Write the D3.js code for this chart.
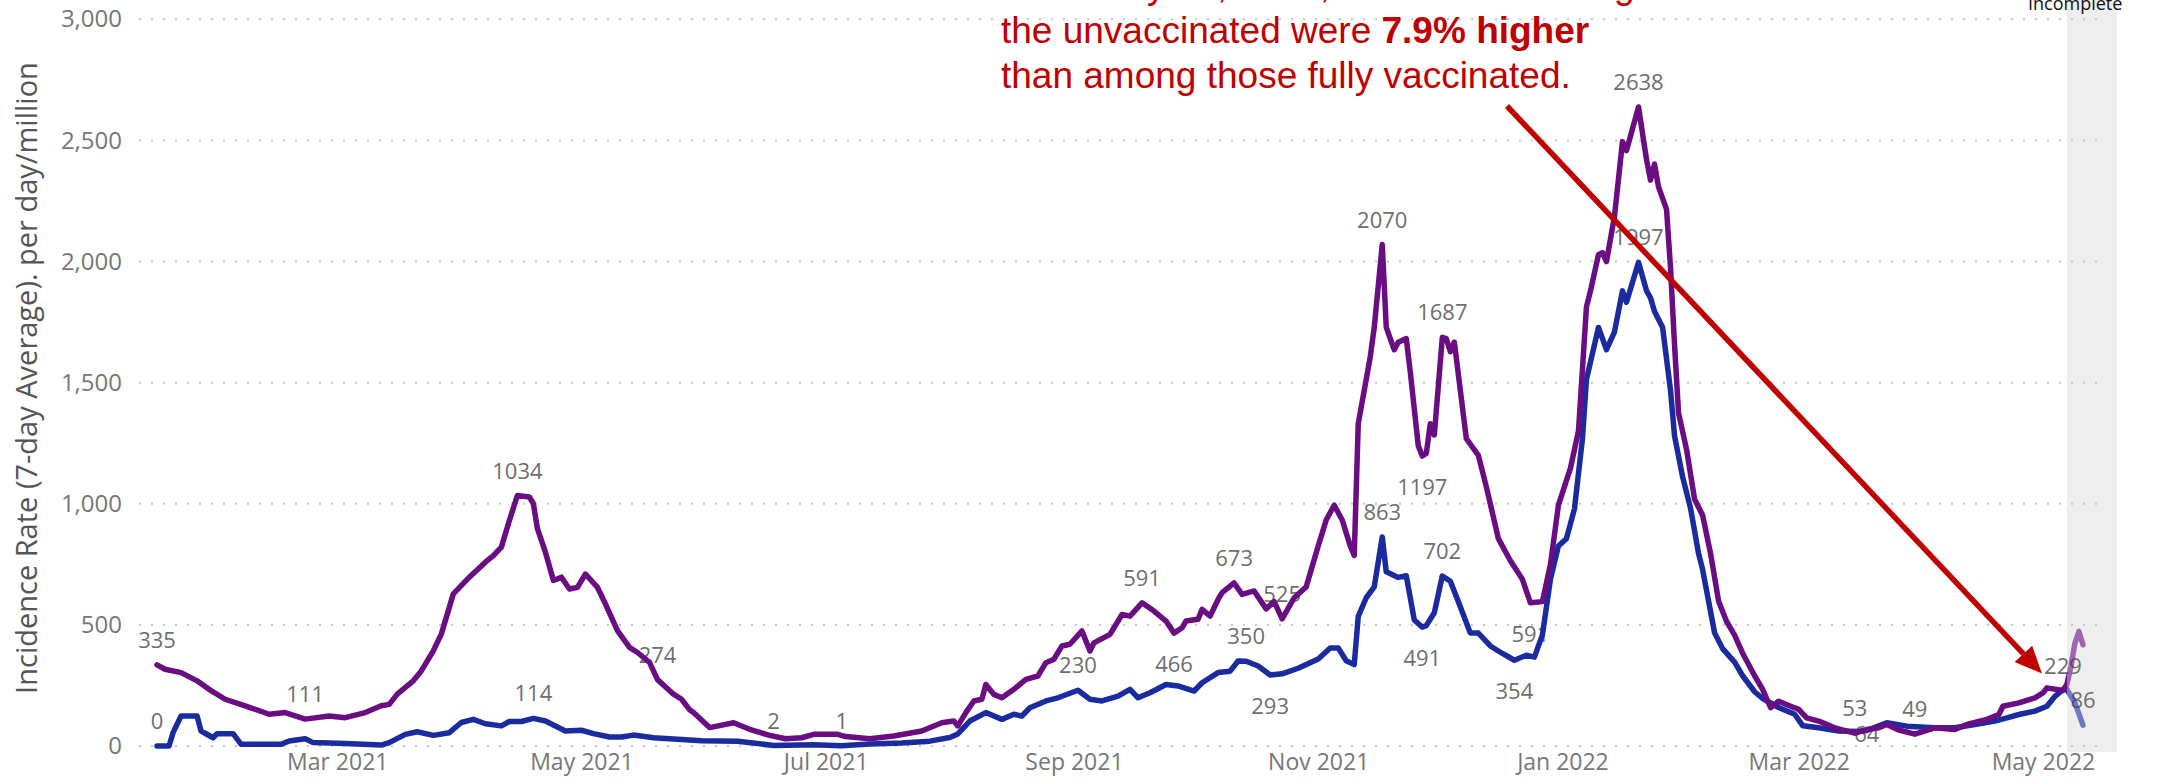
<!DOCTYPE html>
<html>
<head>
<meta charset="utf-8">
<script src="https://cdn.jsdelivr.net/npm/d3@7"></script>
<style>
body { margin: 0; background: #fff; }
svg { display: block; }
</style>
</head>
<body>
<svg width="2175" height="784"></svg>
<script>
// unvaccinated, incidence per day/million (7-day avg)
var unvaxDates = [
  "2021-01-15","2021-01-17","2021-01-21","2021-01-25","2021-01-28","2021-02-01","2021-02-06","2021-02-12",
  "2021-02-16","2021-02-21","2021-02-27","2021-03-03","2021-03-08","2021-03-12","2021-03-14","2021-03-16",
  "2021-03-20","2021-03-22","2021-03-25","2021-03-27","2021-03-30","2021-04-03","2021-04-07","2021-04-09",
  "2021-04-11","2021-04-13","2021-04-15","2021-04-18","2021-04-19","2021-04-20","2021-04-22","2021-04-24",
  "2021-04-26","2021-04-28","2021-04-30","2021-05-02","2021-05-05","2021-05-07","2021-05-10","2021-05-13",
  "2021-05-15","2021-05-18","2021-05-20","2021-05-24","2021-05-26","2021-05-28","2021-05-29","2021-06-02",
  "2021-06-08","2021-06-12","2021-06-17","2021-06-21","2021-06-25","2021-06-28","2021-07-04","2021-07-06",
  "2021-07-12","2021-07-18","2021-07-25","2021-07-30","2021-08-02","2021-08-03","2021-08-05","2021-08-07",
  "2021-08-09","2021-08-10","2021-08-12","2021-08-14","2021-08-17","2021-08-20","2021-08-23","2021-08-25",
  "2021-08-27","2021-08-29","2021-08-31","2021-09-03","2021-09-05","2021-09-06","2021-09-10","2021-09-13",
  "2021-09-15","2021-09-18","2021-09-21","2021-09-24","2021-09-26","2021-09-28","2021-09-29","2021-10-02",
  "2021-10-03","2021-10-05","2021-10-07","2021-10-08","2021-10-11","2021-10-13","2021-10-16","2021-10-19",
  "2021-10-21","2021-10-23","2021-10-26","2021-10-29","2021-11-01","2021-11-03","2021-11-05","2021-11-07",
  "2021-11-09","2021-11-10","2021-11-11","2021-11-13","2021-11-14","2021-11-15","2021-11-17","2021-11-18",
  "2021-11-20","2021-11-21","2021-11-23","2021-11-24","2021-11-26","2021-11-27","2021-11-28","2021-11-29",
  "2021-11-30","2021-12-02","2021-12-03","2021-12-04","2021-12-05","2021-12-08","2021-12-11","2021-12-13",
  "2021-12-16","2021-12-19","2021-12-22","2021-12-24","2021-12-27","2021-12-29","2021-12-31","2022-01-03",
  "2022-01-05","2022-01-07","2022-01-08","2022-01-10","2022-01-11","2022-01-12","2022-01-14","2022-01-16",
  "2022-01-17","2022-01-20","2022-01-22","2022-01-23","2022-01-24","2022-01-25","2022-01-27","2022-01-28",
  "2022-01-29","2022-01-30","2022-02-01","2022-02-03","2022-02-05","2022-02-07","2022-02-09","2022-02-11",
  "2022-02-13","2022-02-15","2022-02-18","2022-02-20","2022-02-22","2022-02-24","2022-02-27","2022-03-01",
  "2022-03-03","2022-03-06","2022-03-10","2022-03-15","2022-03-18","2022-03-21","2022-03-23","2022-03-26",
  "2022-03-30","2022-04-04","2022-04-09","2022-04-12","2022-04-17","2022-04-20","2022-04-21","2022-04-25",
  "2022-04-29","2022-05-01","2022-05-02","2022-05-06","2022-05-07","2022-05-08","2022-05-09","2022-05-10",
  "2022-05-11"
];
var unvaxValues = [
  335,317,303,269,234,193,166,131,
  138,111,124,117,138,166,172,214,
  269,310,393,462,628,697,759,786,
  821,931,1034,1028,1000,897,800,683,
  697,648,655,710,655,586,476,407,
  386,345,274,214,193,150,138,76,
  96,69,44,30,34,48,48,39,
  30,41,62,96,103,83,138,186,
  193,254,213,199,234,275,289,344,
  358,413,420,475,392,426,461,543,
  536,591,557,516,466,488,516,523,
  564,536,605,633,673,626,640,566,
  596,525,612,657,826,933,994,933,
  826,787,1330,1514,1606,1728,2070,1728,
  1636,1667,1682,1544,1239,1197,1208,1330,
  1284,1687,1682,1628,1667,1269,1200,1070,
  856,765,688,591,596,749,994,1147,
  1300,1813,1879,2028,2037,2000,2187,2495,
  2458,2638,2421,2336,2402,2308,2215,1972,
  1654,1374,1224,1019,953,794,598,514,
  458,383,290,234,158,185,164,151,
  116,103,75,53,68,75,89,66,
  49,75,68,89,110,130,164,178,
  199,219,240,229,255,329,425,473,
  418
];

// fully vaccinated
var vaxDates = [
  "2021-01-15","2021-01-18","2021-01-19","2021-01-21","2021-01-25","2021-01-26","2021-01-29","2021-01-30",
  "2021-02-03","2021-02-05","2021-02-15","2021-02-17","2021-02-21","2021-02-23","2021-03-03","2021-03-12",
  "2021-03-14","2021-03-18","2021-03-21","2021-03-25","2021-03-29","2021-04-01","2021-04-04","2021-04-07",
  "2021-04-11","2021-04-13","2021-04-16","2021-04-19","2021-04-22","2021-04-27","2021-05-01","2021-05-04",
  "2021-05-08","2021-05-11","2021-05-14","2021-05-19","2021-05-25","2021-05-31","2021-06-09","2021-06-18",
  "2021-06-28","2021-07-05","2021-07-12","2021-07-20","2021-07-27","2021-08-01","2021-08-03","2021-08-06",
  "2021-08-10","2021-08-14","2021-08-17","2021-08-19","2021-08-21","2021-08-25","2021-08-28","2021-09-02",
  "2021-09-05","2021-09-08","2021-09-12","2021-09-15","2021-09-17","2021-09-20","2021-09-24","2021-09-27",
  "2021-10-01","2021-10-03","2021-10-07","2021-10-10","2021-10-12","2021-10-14","2021-10-17","2021-10-20",
  "2021-10-23","2021-10-27","2021-11-01","2021-11-04","2021-11-06","2021-11-08","2021-11-10","2021-11-11",
  "2021-11-13","2021-11-15","2021-11-17","2021-11-18","2021-11-21","2021-11-23","2021-11-25","2021-11-27",
  "2021-11-28","2021-11-30","2021-12-02","2021-12-04","2021-12-06","2021-12-09","2021-12-11","2021-12-14",
  "2021-12-17","2021-12-20","2021-12-23","2021-12-25","2021-12-27","2021-12-29","2021-12-31","2022-01-02",
  "2022-01-04","2022-01-06","2022-01-07","2022-01-10","2022-01-12","2022-01-14","2022-01-16","2022-01-17",
  "2022-01-20","2022-01-22","2022-01-23","2022-01-24","2022-01-26","2022-01-28","2022-01-29","2022-01-31",
  "2022-02-02","2022-02-04","2022-02-05","2022-02-08","2022-02-10","2022-02-13","2022-02-15","2022-02-18",
  "2022-02-20","2022-02-24","2022-02-28","2022-03-02","2022-03-06","2022-03-11","2022-03-16","2022-03-18",
  "2022-03-23","2022-03-28","2022-04-04","2022-04-09","2022-04-14","2022-04-19","2022-04-22","2022-04-25",
  "2022-04-29","2022-05-02","2022-05-04","2022-05-06","2022-05-07","2022-05-09","2022-05-11"
];
var vaxValues = [
  0,0,55,124,124,62,34,51,
  51,7,7,21,30,14,10,4,
  14,48,59,44,55,97,110,92,
  83,101,101,114,103,62,65,51,
  37,37,45,34,28,22,20,2,
  5,1,8,12,20,35,50,103,
  138,110,131,124,158,186,199,230,
  193,186,206,234,199,220,254,248,
  227,261,303,309,351,350,330,293,
  298,321,359,405,405,352,336,535,
  612,657,863,719,696,703,520,491,
  497,550,702,680,596,466,466,413,
  382,354,375,367,459,688,826,856,
  979,1269,1514,1728,1636,1710,1879,1832,
  1997,1879,1850,1794,1729,1467,1280,1112,
  981,794,729,467,402,346,290,224,
  196,159,131,84,75,62,60,64,
  96,82,75,75,89,103,116,130,
  144,164,205,233,233,178,86
];

var yTicks = [0, 500, 1000, 1500, 2000, 2500, 3000];
var xTickDates = ["2021-03-01","2021-05-01","2021-07-01","2021-09-01","2021-11-01","2022-01-01","2022-03-01","2022-05-01"];

// data labels shown on the lines (u = unvaccinated, v = vaccinated)
var labelDates  = ["2021-01-15","2021-01-15","2021-02-21","2021-04-15","2021-04-19","2021-05-20","2021-06-18","2021-07-05",
                   "2021-09-02","2021-09-18","2021-09-26","2021-10-11","2021-10-14","2021-10-20","2021-10-23","2021-11-17",
                   "2021-11-17","2021-11-27","2021-12-02","2021-12-02","2021-11-27","2021-12-20","2021-12-24","2022-01-20",
                   "2022-01-20","2022-03-15","2022-03-18","2022-03-30","2022-05-06","2022-05-11"];
var labelValues = [335,0,111,1034,114,274,2,1,
                   230,591,466,673,350,293,525,2070,
                   863,1197,1687,702,491,354,591,2638,
                   1997,53,64,49,229,86];
var labelSeries = ["u","v","u","u","v","u","v","v",
                   "v","u","u","u","v","v","u","u",
                   "v","u","u","v","v","v","u","u",
                   "v","u","v","u","u","v"];
var labelPlace  = ["above","above","above","above","above","above","above","above",
                   "above","above","below","above","above","below","above","above",
                   "above","below","above","above","below","below","below","above",
                   "above","above","on","above","above","above"];

var incompleteStart = "2022-05-07";

var noteLine1 = "As of May 10, 2022, case rates among";
var noteLine2a = "the unvaccinated were ";
var noteLine2b = "7.9% higher";
var noteLine3 = "than among those fully vaccinated.";

var parseDate = d3.utcParse("%Y-%m-%d");

var width = 2175,
    height = 784;

var svg = d3.select("svg");

var x = d3.scaleUtc()
    .domain([parseDate("2021-01-10"), parseDate("2022-05-19")])
    .range([137, 2115]);

var y = d3.scaleLinear()
    .domain([0, 3000])
    .range([746, 19.3]);

var tickFont = "'Open Sans', 'Noto Sans', sans-serif";

// grey band for incomplete data
var bandX = x(parseDate(incompleteStart));
svg.append("rect")
    .attr("x", bandX)
    .attr("y", 0)
    .attr("width", x.range()[1] + 2 - bandX)
    .attr("height", y(0) + 6)
    .attr("fill", "#eeeeee");

// dotted gridlines
svg.append("g")
    .selectAll("line")
    .data(yTicks)
    .enter().append("line")
    .attr("x1", 139)
    .attr("x2", 2100)
    .attr("y1", function (d) { return y(d); })
    .attr("y2", function (d) { return y(d); })
    .attr("stroke", "#c6c6c6")
    .attr("stroke-width", 2)
    .attr("stroke-dasharray", "2,10");

// y axis labels
var yAxis = d3.axisLeft(y)
    .tickValues(yTicks)
    .tickFormat(d3.format(","))
    .tickSize(0)
    .tickPadding(0);

var gy = svg.append("g")
    .attr("transform", "translate(122,0)")
    .call(yAxis);
gy.select(".domain").remove();
gy.selectAll("text")
    .attr("fill", "#777")
    .style("font-family", tickFont)
    .style("font-size", "24px");

// x axis labels
var xAxis = d3.axisBottom(x)
    .tickValues(xTickDates.map(parseDate))
    .tickFormat(d3.utcFormat("%b %Y"))
    .tickSize(0)
    .tickPadding(0);

var gx = svg.append("g")
    .attr("transform", "translate(0,754)")
    .call(xAxis);
gx.select(".domain").remove();
gx.selectAll("text")
    .attr("fill", "#777")
    .attr("dy", "0.71em")
    .style("font-family", tickFont)
    .style("font-size", "23px");

// y axis title
svg.append("text")
    .attr("transform", "translate(37,378) rotate(-90)")
    .attr("text-anchor", "middle")
    .attr("fill", "#555")
    .style("font-family", tickFont)
    .style("font-size", "29px")
    .text("Incidence Rate (7-day Average). per day/million");

// data labels (drawn under the lines, like the original)
var placeDy = { above: -26, below: 30, on: 3 };
var labels = labelDates.map(function (d, i) {
    return { date: parseDate(d), value: labelValues[i], series: labelSeries[i], place: labelPlace[i] };
});
svg.append("g")
    .selectAll("text")
    .data(labels)
    .enter().append("text")
    .attr("x", function (d) { return x(d.date); })
    .attr("y", function (d) { return y(d.value) + placeDy[d.place]; })
    .attr("text-anchor", "middle")
    .attr("dominant-baseline", "central")
    .attr("fill", "#6e6e6e")
    .style("font-family", tickFont)
    .style("font-size", "22px")
    .text(function (d) { return d.value; });

// lines
var unvax = unvaxDates.map(function (d, i) { return { date: parseDate(d), value: unvaxValues[i] }; });
var vax = vaxDates.map(function (d, i) { return { date: parseDate(d), value: vaxValues[i] }; });

var line = d3.line()
    .x(function (d) { return x(d.date); })
    .y(function (d) { return y(d.value); });

var defs = svg.append("defs");
defs.append("clipPath").attr("id", "before")
    .append("rect").attr("x", 0).attr("y", 0).attr("width", bandX).attr("height", height);
defs.append("clipPath").attr("id", "after")
    .append("rect").attr("x", bandX).attr("y", 0).attr("width", width - bandX).attr("height", height);

var series = [
    { data: vax, color: "#1a2ba0" },
    { data: unvax, color: "#6a0d82" }
];

series.forEach(function (s) {
    svg.append("path")
        .datum(s.data)
        .attr("d", line)
        .attr("clip-path", "url(#before)")
        .attr("fill", "none")
        .attr("stroke", s.color)
        .attr("stroke-width", 5.5)
        .attr("stroke-linejoin", "round")
        .attr("stroke-linecap", "round");
    svg.append("path")
        .datum(s.data)
        .attr("d", line)
        .attr("clip-path", "url(#after)")
        .attr("fill", "none")
        .attr("stroke", s.color)
        .attr("stroke-opacity", 0.6)
        .attr("stroke-width", 5.5)
        .attr("stroke-linejoin", "round")
        .attr("stroke-linecap", "round");
});

// "Incomplete" tag
svg.append("text")
    .attr("x", 2028)
    .attr("y", 10)
    .attr("fill", "#111")
    .style("font-family", tickFont)
    .style("font-size", "18px")
    .text("Incomplete");

// annotation text
var noteColor = "#c00000";
var note = svg.append("g")
    .style("font-family", "'Liberation Sans', Arial, sans-serif")
    .style("font-size", "37px")
    .attr("fill", noteColor);
note.append("text").attr("x", 1001).attr("y", -2).text(noteLine1);
var l2 = note.append("text").attr("x", 1001).attr("y", 43);
l2.append("tspan").text(noteLine2a);
l2.append("tspan").style("font-weight", "bold").text(noteLine2b);
note.append("text").attr("x", 1001).attr("y", 88).text(noteLine3);

// arrow pointing at the latest unvaccinated value
var tipX = x(parseDate("2022-05-06")) - 21,
    tipY = y(229) - 17;
var startX = 1507, startY = 106;
var ang = Math.atan2(tipY - startY, tipX - startX);
var headLen = 27, headW = 12;
var baseX = tipX - headLen * Math.cos(ang),
    baseY = tipY - headLen * Math.sin(ang);

svg.append("line")
    .attr("x1", startX)
    .attr("y1", startY)
    .attr("x2", baseX)
    .attr("y2", baseY)
    .attr("stroke", noteColor)
    .attr("stroke-width", 5.5);

svg.append("path")
    .attr("d", "M" + tipX + "," + tipY +
        "L" + (baseX + headW * Math.sin(ang)) + "," + (baseY - headW * Math.cos(ang)) +
        "L" + (baseX - headW * Math.sin(ang)) + "," + (baseY + headW * Math.cos(ang)) + "Z")
    .attr("fill", noteColor);
</script>
</body>
</html>
